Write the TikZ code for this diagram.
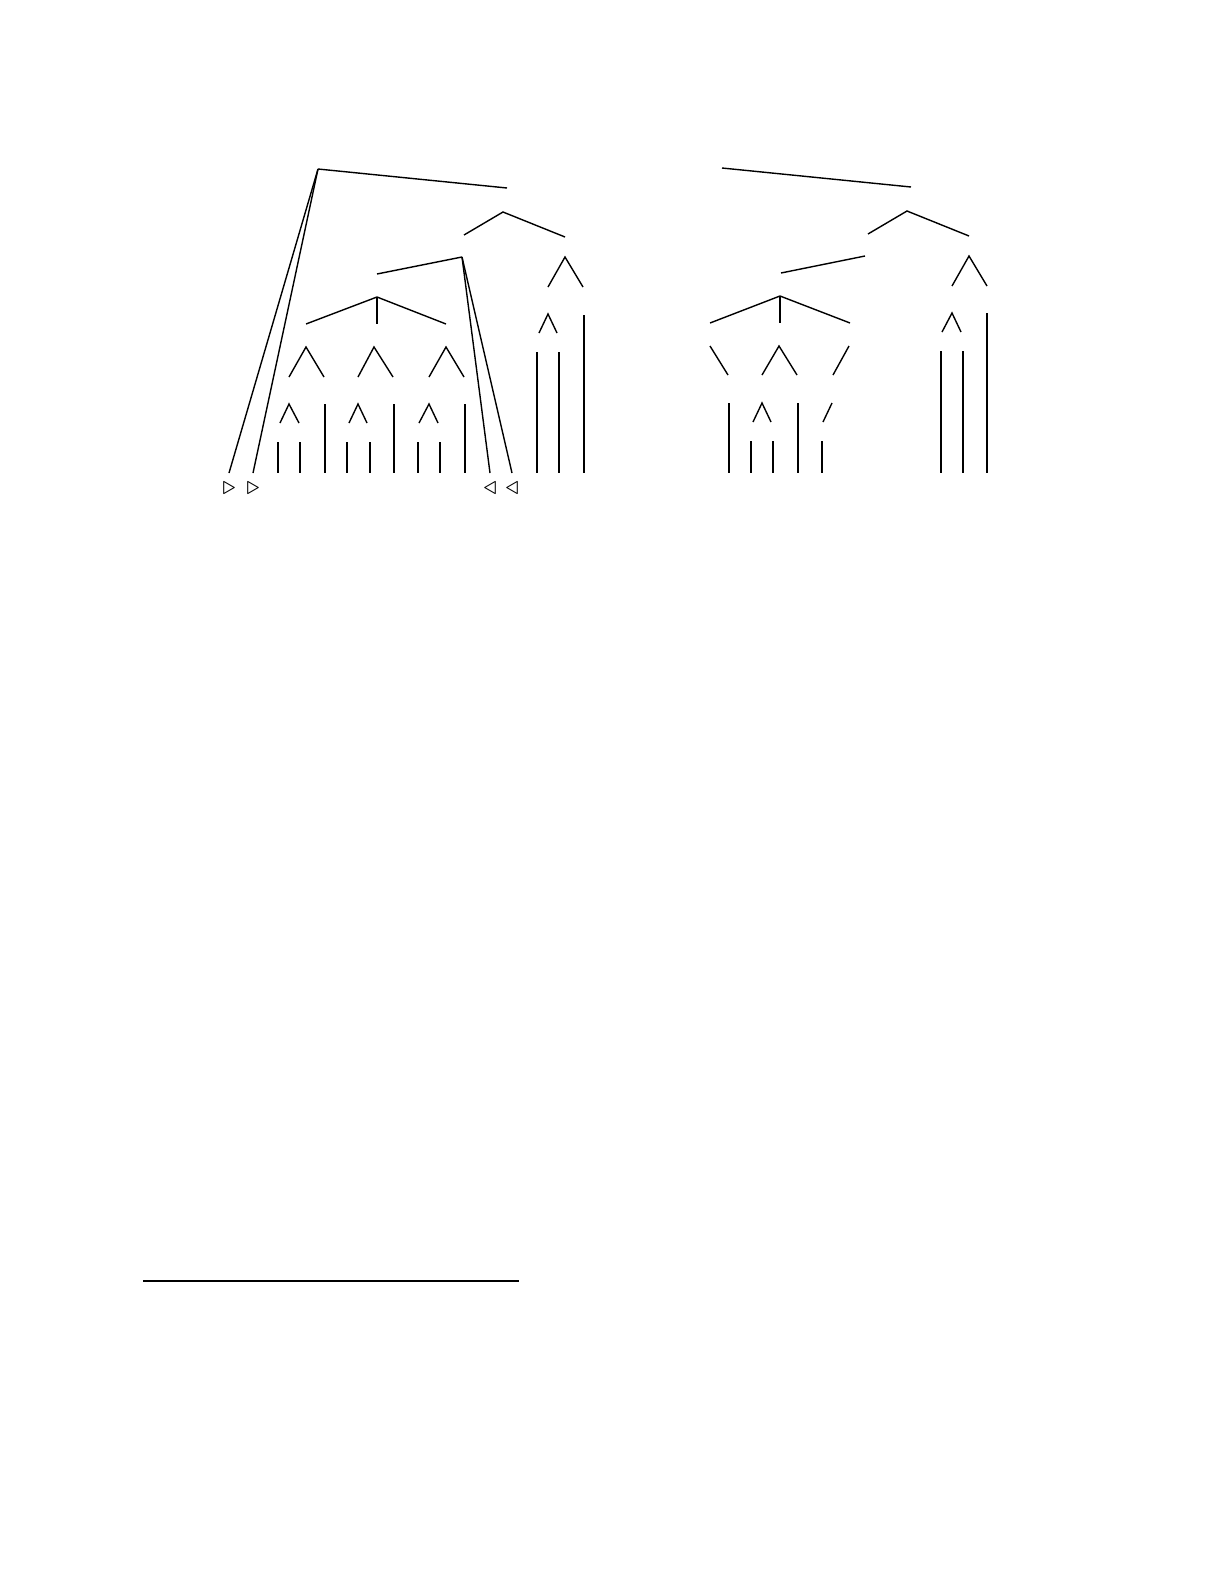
\documentclass[tikz,border=0pt]{standalone}
\usepackage{amssymb}
\begin{document}
\begin{tikzpicture}[x=0.5pt,y=-0.5pt,line width=0.7pt]
\useasboundingbox (0,0) rectangle (1225,1585);
% left tree
\coordinate (top) at (318,169);
\coordinate (n1) at (503,212);
\coordinate (n2) at (462,257);
\coordinate (n3) at (377,297);
\draw (top)--(507,188);
\draw (top)--(229,473);
\draw (top)--(253,473);
\node[scale=1.3] (ra) at (229,488) {$\triangleright$};
\node[scale=1.3] (rb) at (253,488) {$\triangleright$};
\draw (464,235)--(n1)--(565,237);
\draw (377,274)--(n2);
\draw (n2)--(490,473);
\draw (n2)--(512,473);
\node[scale=1.3] (la) at (490,488) {$\triangleleft$};
\node[scale=1.3] (lb) at (512,488) {$\triangleleft$};
\draw (306,324)--(n3)--(446,324);
\draw (n3)--(377,324);
\foreach \x/\l/\r in {306/289/324,374/358/393,446/429/464}{
\draw (\l,377)--(\x,347)--(\r,377);};
\foreach \x/\l/\r in {289/280/299,358/349/367,429/419/438}{
\draw (\l,423)--(\x,404)--(\r,423);};
\foreach \x in {325,394,465}{
\draw (\x,404)--(\x,473);};
\foreach \x in {278,300,347,370,418,440}{
\draw (\x,442)--(\x,473);};
\draw (548,287)--(565,257)--(583,287);
\draw (539,333)--(548,314)--(557,333);
\draw (584,315)--(584,473);
\foreach \x in {537,559}{
\draw (\x,352)--(\x,473);};
% right tree
\coordinate (rn1) at (907,211);
\coordinate (rn3) at (780,296);
\draw (722,168)--(911,187);
\draw (868,234)--(rn1)--(969,236);
\draw (865,256)--(781,273);
\draw (710,323)--(rn3)--(850,323);
\draw (rn3)--(780,323);
\draw (710,346)--(728,375);
\draw (762,375)--(779,346)--(797,375);
\draw (849,346)--(833,375);
\draw (753,422)--(762,403)--(771,422);
\draw (832,403)--(823,422);
\foreach \x in {729,798}{
\draw (\x,403)--(\x,473);};
\foreach \x in {751,773,822}{
\draw (\x,441)--(\x,473);};
\draw (952,286)--(969,256)--(987,286);
\draw (942,332)--(952,313)--(961,332);
\draw (987,313)--(987,473);
\foreach \x in {941,963}{
\draw (\x,351)--(\x,473);};
% footnote rule
\draw[line width=1pt] (143,1281)--(519,1281);
\end{tikzpicture}
\end{document}
